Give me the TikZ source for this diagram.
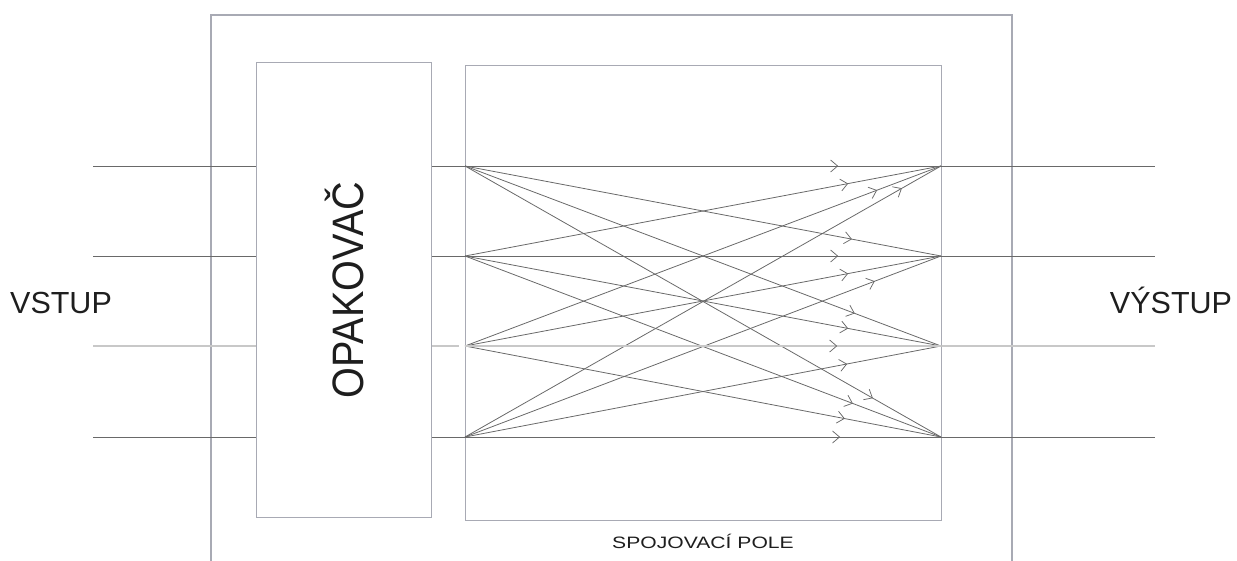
\documentclass[tikz,border=0pt]{standalone}
\usepackage{fontspec}
\setmainfont{Liberation Sans}
\usetikzlibrary{arrows.meta,decorations.markings}

\definecolor{boxgray}{RGB}{168,170,180}
\definecolor{wire}{RGB}{105,105,105}
\definecolor{wirelight}{RGB}{200,200,200}
\definecolor{ink}{RGB}{30,30,30}

\tikzset{
  frame/.style={draw=boxgray, line width=1.2pt},
  blockbox/.style={frame, inner sep=0pt, anchor=north west},
  wireline/.style={draw=wire, line width=0.8pt},
  lightwire/.style={draw=wirelight, line width=1.2pt},
  barb/.style={decoration={markings, mark=at position #1 with
      {\arrow[draw=wire, line width=0.75pt]{Straight Barb[length=7pt,width=12pt]}}}},
  link/.style={wireline, postaction={decorate}, barb=#1},
  lightlink/.style={lightwire, postaction={decorate}, barb=#1},
  lbl/.style={text=ink, inner sep=0pt}
}

\begin{document}
\begin{tikzpicture}[x=1pt,y=-1pt]
\useasboundingbox (0,0) rectangle (1237,560);

% outer enclosure, open at the bottom
\draw[frame] (211,562) -- (211,15) -- (1012,15) -- (1012,562);

% repeater block and switching field
\node[blockbox, minimum width=175pt, minimum height=455pt] (rep) at (256,62) {};
\node[blockbox, minimum width=476pt, minimum height=455pt] (field) at (465,65) {};

\node[lbl, rotate=90] (reptext) at (rep.center)
  {\fontsize{44}{44}\selectfont\scalebox{0.9}[1]{OPAKOVAČ}};
\node[lbl, anchor=base] (fieldtext) at (703,548)
  {\fontsize{16.5}{16.5}\selectfont\scalebox{1.28}[1]{SPOJOVACÍ POLE}};
\node[lbl, anchor=base] (intext) at (61,313) {\fontsize{30.5}{30.5}\selectfont VSTUP};
\node[lbl, anchor=base] (outtext) at (1171,313) {\fontsize{30.5}{30.5}\selectfont VÝSTUP};

% terminals of the four channels
\foreach \i/\y in {1/166,2/256,3/346,4/437}{
  \coordinate (in\i) at (93,\y);
  \coordinate (L\i) at (465,\y);
  \coordinate (R\i) at (941,\y);
  \coordinate (out\i) at (1155,\y);
}

% input, intermediate and output wires
\foreach \i in {1,2,4}{
  \draw[wireline] (in\i) -- (in\i -| rep.west);
  \draw[wireline] (in\i -| rep.east) -- (L\i);
  \draw[wireline] (R\i) -- (out\i);
}
\coordinate (gap3) at (459,346);
\draw[lightwire] (in3) -- (in3 -| rep.west);
\draw[lightwire] (in3 -| rep.east) -- (gap3);
\draw[lightwire] (R3) -- (out3);

% every input connected to every output
\foreach \i/\j/\p in {
  1/1/0.784, 2/1/0.805, 3/1/0.866, 4/1/0.918,
  1/2/0.813, 2/2/0.784, 3/2/0.805, 4/2/0.861,
  1/3/0.819, 2/3/0.805, 4/3/0.803,
  1/4/0.857, 2/4/0.815, 3/4/0.798, 4/4/0.788}{
  \draw[link=\p] (L\i) -- (R\j);
}
\draw[lightlink=0.782] (L3) -- (R3);
\end{tikzpicture}
\end{document}
